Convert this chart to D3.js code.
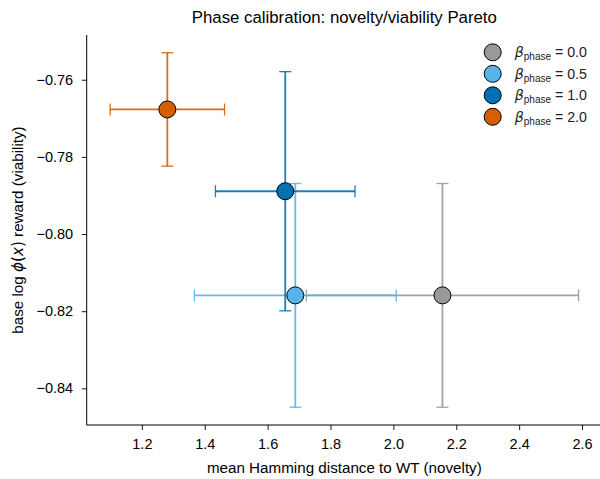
<!DOCTYPE html>
<html>
<head>
<meta charset="utf-8">
<script src="https://cdn.jsdelivr.net/npm/d3@7"></script>
<style>
	body { margin: 0; background: #fff; }
	svg { display: block; font-family: "Liberation Sans", Arial, Helvetica, sans-serif; }
</style>
</head>
<body>
<div id="chart"></div>
<script>
//data
const phases = ['0.0', '0.5', '1.0', '2.0'];
const novelty = [2.156, 1.688, 1.656, 1.281];
const noveltyErr = [0.433, 0.321, 0.222, 0.182];
const viability = [-0.8159, -0.8159, -0.7889, -0.7677];
const viabilityErr = [0.0290, 0.0290, 0.0310, 0.0147];
const xTicks = [1.2, 1.4, 1.6, 1.8, 2.0, 2.2, 2.4, 2.6];
const yTicks = [-0.84, -0.82, -0.80, -0.78, -0.76];

//okabe-ito style palette
const COLORS = ['#999999', '#56B4E9', '#0072B2', '#D55E00'];

const CANVAS = { w: 600, h: 479 };
const PLOT = { left: 86.7, right: 602, top: 35, bottom: 425 };
const DOT_R = 8.5;
const CAP = 6;
const TICK_FONT = 14.5;

const rows = phases.map((p, i) => ({
	phase: p,
	x: novelty[i],
	xe: noveltyErr[i],
	y: viability[i],
	ye: viabilityErr[i],
	color: COLORS[i]
}));

const svg = d3.select('#chart')
	.append('svg')
	.attr('width', CANVAS.w)
	.attr('height', CANVAS.h);

const x = d3.scaleLinear()
	.domain([1.0245, 2.6635])
	.range([PLOT.left, PLOT.right]);

const y = d3.scaleLinear()
	.domain([-0.8495, -0.7484])
	.range([PLOT.bottom, PLOT.top]);

// axes
const gx = svg.append('g')
	.attr('transform', `translate(0,${PLOT.bottom})`)
	.call(d3.axisBottom(x).tickValues(xTicks).tickFormat(d3.format('.1f')).tickSize(5).tickPadding(8.5));

const gy = svg.append('g')
	.attr('transform', `translate(${PLOT.left},0)`)
	.call(d3.axisLeft(y).tickValues(yTicks).tickFormat(d3.format('.2f')).tickSize(5).tickPadding(8.5));

[gx, gy].forEach(g => {
	g.attr('font-size', TICK_FONT).attr('font-family', null);
	g.select('.domain').attr('stroke', '#000').attr('stroke-width', 1);
	g.selectAll('.tick line').attr('stroke', '#000').attr('stroke-width', 0.9);
	g.selectAll('.tick text').attr('fill', '#000');
});
gx.select('.domain').attr('d', `M${PLOT.left},0H${PLOT.right}`);
gy.select('.domain').attr('d', `M0,${PLOT.top}V${PLOT.bottom}`);

// error bars + markers, one series at a time
const gShapes = svg.append('g').attr('class', 'shapes');

rows.forEach(d => {
	const g = gShapes.append('g')
		.attr('stroke', d.color)
		.attr('stroke-opacity', 0.9)
		.attr('stroke-width', 1.8)
		.attr('fill', 'none');

	const x0 = x(d.x - d.xe), x1 = x(d.x + d.xe), cx = x(d.x);
	const y0 = y(d.y - d.ye), y1 = y(d.y + d.ye), cy = y(d.y);

	g.append('line').attr('x1', x0).attr('x2', x1).attr('y1', cy).attr('y2', cy);
	g.append('line').attr('x1', cx).attr('x2', cx).attr('y1', y0).attr('y2', y1);
	// caps
	[x0, x1].forEach(px => g.append('line')
		.attr('x1', px).attr('x2', px).attr('y1', cy - CAP).attr('y2', cy + CAP).attr('stroke-width', 1.3));
	[y0, y1].forEach(py => g.append('line')
		.attr('y1', py).attr('y2', py).attr('x1', cx - CAP).attr('x2', cx + CAP).attr('stroke-width', 1.3));

	gShapes.append('circle')
		.attr('cx', cx)
		.attr('cy', cy)
		.attr('r', DOT_R)
		.attr('fill', d.color)
		.attr('stroke', '#000')
		.attr('stroke-width', 1);
});

// legend
const legend = svg.append('g')
	.attr('transform', 'translate(492.7,52.3)');

const item = legend.selectAll('g.item')
	.data(rows)
	.join('g')
	.attr('class', 'item')
	.attr('transform', (d, i) => `translate(0,${i * 21.5})`);

item.append('circle')
	.attr('r', DOT_R)
	.attr('fill', d => d.color)
	.attr('stroke', '#000')
	.attr('stroke-width', 1);

const lt = item.append('text')
	.attr('x', 22)
	.attr('y', 5)
	.attr('font-size', 14.2)
	.attr('fill', '#222');
lt.append('tspan').attr('font-family', 'DejaVu Sans').attr('font-style', 'italic').text('β');
lt.append('tspan').attr('font-size', 10).attr('dy', 3).text('phase');
lt.append('tspan').attr('dy', -3).text(d => ` = ${d.phase}`);

// title and axis labels
svg.append('text')
	.attr('x', (PLOT.left + PLOT.right) / 2)
	.attr('y', 23)
	.attr('text-anchor', 'middle')
	.attr('font-size', 16.8)
	.text('Phase calibration: novelty/viability Pareto');

svg.append('text')
	.attr('x', (PLOT.left + PLOT.right) / 2)
	.attr('y', 472.5)
	.attr('text-anchor', 'middle')
	.attr('font-size', 15.2)
	.text('mean Hamming distance to WT (novelty)');

const yl = svg.append('text')
	.attr('transform', `translate(23,${(PLOT.top + PLOT.bottom) / 2}) rotate(-90)`)
	.attr('text-anchor', 'middle')
	.attr('font-size', 15.2);
yl.append('tspan').text('base log ');
yl.append('tspan').attr('font-family', 'DejaVu Sans').attr('font-style', 'italic').text('ϕ');
yl.append('tspan').attr('font-family', 'DejaVu Sans').text('(');
yl.append('tspan').attr('font-family', 'DejaVu Sans').attr('font-style', 'italic').text('x');
yl.append('tspan').attr('font-family', 'DejaVu Sans').text(')');
yl.append('tspan').text(' reward (viability)');
</script>
</body>
</html>
